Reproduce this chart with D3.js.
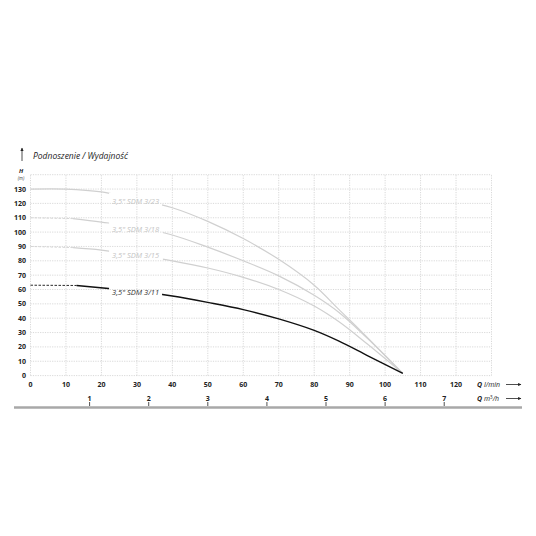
<!DOCTYPE html>
<html lang="pl">
<head>
<meta charset="UTF-8">
<title>Podnoszenie / Wydajność</title>
<script src="https://cdn.jsdelivr.net/npm/d3@7"></script>
<style>
  body { margin: 0; background: #fff; }
  svg { font-family: "Open Sans", "Noto Sans", sans-serif; }
</style>
</head>
<body>
<script>
    // wartości
    const seriesNames = ['3,5" SDM 3/23', '3,5" SDM 3/18', '3,5" SDM 3/15', '3,5" SDM 3/11'];
    const flowQ = [
        [0, 10, 20, 34, 40, 50, 60, 70, 80, 87, 93, 100, 105],
        [0, 12, 20, 30, 40, 50, 60, 70, 80, 87, 95, 105],
        [0, 12, 20, 30, 40, 50, 60, 70, 80, 87, 95, 105],
        [0, 13, 22, 30, 40, 50, 60, 70, 80, 87, 95, 105]
    ];
    const headH = [
        [130, 130, 128, 120.6, 117, 107.5, 95.5, 81, 63, 46, 31.5, 14, 1.5],
        [110, 109.4, 107, 103.5, 98, 89.5, 80, 69.5, 56, 44, 26, 1.5],
        [90, 89.2, 87.5, 84, 80, 75, 68.5, 60, 48.5, 37.5, 22, 1.5],
        [63, 62.8, 60.7, 59, 55.5, 51, 46, 39.5, 31.5, 24, 14, 1.5]
    ];
    // koniec odcinka przerywanego (l/min), 0 = brak
    const dashedUntil = [0, 12, 12, 13];
    // położenie etykiety na krzywej [Q, H]
    const labelQ = [23, 23, 23, 23];
    const labelH = [121.5, 102, 83.5, 58];

    const xTicks = d3.range(0, 130, 10);
    const yTicks = d3.range(0, 140, 10);
    const m3Ticks = [1, 2, 3, 4, 5, 6, 7];

    var w = 536, h = 536;
    var svg = d3.select("body").append("svg")
        .attr("width", w).attr("height", h);

    var x = d3.scaleLinear().domain([0, 130]).range([30.5, 491.5]);
    var y = d3.scaleLinear().domain([0, 140]).range([375.6, 174.7]);

    // siatka
    var grid = svg.append("g")
        .attr("stroke", "#c9c9c9")
        .attr("stroke-width", 0.7)
        .attr("stroke-dasharray", "1.2,1.2");
    grid.selectAll(".v").data(d3.range(0, 140, 10)).enter().append("line")
        .attr("x1", d => x(d)).attr("x2", d => x(d))
        .attr("y1", y(0)).attr("y2", y(140));
    grid.selectAll(".h").data(d3.range(0, 150, 10)).enter().append("line")
        .attr("x1", x(0)).attr("x2", x(130))
        .attr("y1", d => y(d)).attr("y2", d => y(d));

    // opisy osi Y
    svg.append("g").selectAll("text").data(yTicks).enter().append("text")
        .attr("x", 26).attr("y", d => y(d) + 2.5)
        .attr("text-anchor", "end")
        .attr("font-size", "7px").attr("font-weight", "bold").attr("fill", "#222")
        .text(d => d);
    svg.append("text").attr("x", 21).attr("y", 173)
        .attr("text-anchor", "middle").attr("font-size", "6px")
        .attr("font-weight", "bold").attr("font-style", "italic").attr("fill", "#222")
        .text("H");
    svg.append("text").attr("x", 21).attr("y", 180)
        .attr("text-anchor", "middle").attr("font-size", "4.5px")
        .attr("font-style", "italic").attr("fill", "#444")
        .text("(m)");

    // opisy osi X (l/min)
    svg.append("g").selectAll("text").data(xTicks).enter().append("text")
        .attr("x", d => x(d)).attr("y", 387)
        .attr("text-anchor", "middle")
        .attr("font-size", "7px").attr("font-weight", "bold").attr("fill", "#222")
        .text(d => d);

    // druga oś (m3/h)
    var axis2 = svg.append("g");
    axis2.append("line")
        .attr("x1", 14).attr("x2", 522).attr("y1", 407.5).attr("y2", 407.5)
        .attr("stroke", "#a8a8a8").attr("stroke-width", 2.5);
    axis2.selectAll(".t").data(m3Ticks).enter().append("line")
        .attr("x1", d => x(d * 1000 / 60)).attr("x2", d => x(d * 1000 / 60))
        .attr("y1", 402).attr("y2", 406)
        .attr("stroke", "#222").attr("stroke-width", 0.8);
    axis2.selectAll("text").data(m3Ticks).enter().append("text")
        .attr("x", d => x(d * 1000 / 60)).attr("y", 401)
        .attr("text-anchor", "middle")
        .attr("font-size", "7px").attr("font-weight", "bold").attr("fill", "#222")
        .text(d => d);

    // nazwy osi + strzałki
    svg.append("defs").append("marker")
        .attr("id", "arr").attr("viewBox", "0 0 10 10")
        .attr("refX", 9).attr("refY", 5)
        .attr("markerWidth", 5).attr("markerHeight", 4)
        .attr("orient", "auto")
        .append("path").attr("d", "M0,0 L10,5 L0,10 z").attr("fill", "#222");

    function axisName(yy, unit, sup) {
        var t = svg.append("text").attr("x", 477).attr("y", yy)
            .attr("font-size", "7px").attr("fill", "#222");
        t.append("tspan").attr("font-weight", "bold").attr("font-style", "italic").text("Q ");
        t.append("tspan").attr("font-style", "italic").text(unit);
        if (sup) {
            t.append("tspan").attr("font-size", "4.5px").attr("dy", -2.5).text(sup);
            t.append("tspan").attr("font-style", "italic").attr("dy", 2.5).text("/h");
        }
        svg.append("line").attr("x1", 506).attr("x2", 521)
            .attr("y1", yy - 2.5).attr("y2", yy - 2.5)
            .attr("stroke", "#222").attr("stroke-width", 0.8)
            .attr("marker-end", "url(#arr)");
    }
    axisName(387, "l/min", null);
    axisName(401, "m", "3");

    // tytuł
    svg.append("line").attr("x1", 22).attr("x2", 22).attr("y1", 161).attr("y2", 148)
        .attr("stroke", "#222").attr("stroke-width", 0.8)
        .attr("marker-end", "url(#arr)");
    svg.append("text").attr("x", 33).attr("y", 159)
        .attr("font-size", "8.5px").attr("font-style", "italic").attr("fill", "#222")
        .text("Podnoszenie / Wydajność");

    // etykiety krzywych
    var labels = svg.append("g").selectAll("text").data(seriesNames).enter().append("text")
        .attr("x", (d, i) => x(labelQ[i]))
        .attr("y", (d, i) => y(labelH[i]) + 2.5)
        .attr("font-size", "7.5px").attr("font-style", "italic")
        .attr("fill", (d, i) => i === 3 ? "#333" : "#c4c4c4")
        .text(d => d);

    // maska - przerwy w krzywych pod etykietami
    var mask = svg.select("defs").append("mask").attr("id", "gaps")
        .attr("maskUnits", "userSpaceOnUse")
        .attr("x", 0).attr("y", 0).attr("width", w).attr("height", h);
    mask.append("rect").attr("width", w).attr("height", h).attr("fill", "#fff");
    labels.each(function () {
        var b = this.getBBox();
        mask.append("rect")
            .attr("x", b.x - 3).attr("y", b.y - 3)
            .attr("width", b.width + 6).attr("height", b.height + 6)
            .attr("fill", "#000");
    });

    // krzywe
    var line = d3.line()
        .x(d => x(d[0])).y(d => y(d[1]))
        .curve(d3.curveCatmullRom.alpha(0.5));
    var curves = svg.append("g").attr("mask", "url(#gaps)").attr("fill", "none");
    seriesNames.forEach(function (name, i) {
        var pts = flowQ[i].map((q, j) => [q, headH[i][j]]);
        var col = i === 3 ? "#111" : "#d0d0d0";
        var sw = i === 3 ? 1.4 : 1.2;
        var cut = dashedUntil[i];
        if (cut > 0) {
            curves.append("path")
                .attr("d", line(pts.filter(p => p[0] <= cut)))
                .attr("stroke", col).attr("stroke-width", 0.9)
                .attr("stroke-dasharray", "2.5,1.5");
        }
        curves.append("path")
            .attr("d", line(pts.filter(p => p[0] >= cut)))
            .attr("stroke", col).attr("stroke-width", sw);
    });
</script>
</body>
</html>
